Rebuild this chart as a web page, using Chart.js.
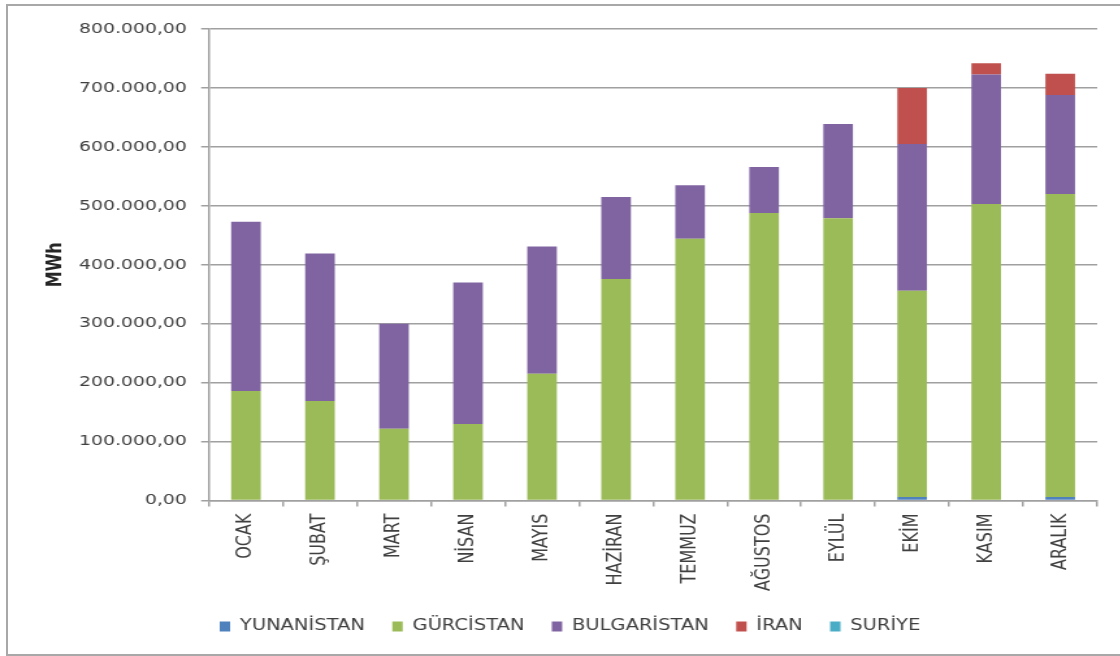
<!DOCTYPE html>
<html>
<head>
<meta charset="utf-8">
<script src="https://cdn.jsdelivr.net/npm/chart.js@4"></script>
<style>
  html, body { margin: 0; padding: 0; background: #ffffff; overflow: hidden; }
  #frame { position: absolute; left: 6px; top: 4px; width: 1300px; height: 648px;
           border-left: 2px solid #a8a8a8; border-top: 2px solid #a8a8a8; border-bottom: 2px solid #a8a8a8; }
  #wrap { position: absolute; left: 0; top: 0; width: 862px; height: 656px;
          transform: scaleX(1.3); transform-origin: 0 0; }
</style>
</head>
<body>
<div id="frame"></div>
<div id="wrap"><canvas id="c" width="862" height="656"></canvas></div>
<script>
const months = ['OCAK','ŞUBAT','MART','NİSAN','MAYIS','HAZİRAN','TEMMUZ','AĞUSTOS','EYLÜL','EKİM','KASIM','ARALIK'];
const yunanistan  = [0, 0, 0, 0, 0, 0, 0, 0, 0, 6000, 0, 6000];
const gurcistan   = [186000, 169000, 122000, 130000, 215000, 376000, 444000, 488000, 479000, 350000, 503000, 514000];
const bulgaristan = [287000, 250000, 178000, 240000, 216000, 139000, 91000, 78000, 160000, 249000, 220000, 168000];
const iran        = [0, 0, 0, 0, 0, 0, 0, 0, 0, 95000, 19000, 36000];
const suriye      = [0, 0, 0, 0, 0, 0, 0, 0, 0, 0, 0, 0];
const seriesNames = ['YUNANİSTAN','GÜRCİSTAN','BULGARİSTAN','İRAN','SURİYE'];
const yMax = 800000;
const yStep = 100000;

function trFormat(v) {
  const s = Math.round(v).toString().replace(/\B(?=(\d{3})+(?!\d))/g, '.');
  return s + ',00';
}

const colors = ['#4f81bd', '#9bbb59', '#8064a2', '#c0504d', '#4bacc6'];
const values = [yunanistan, gurcistan, bulgaristan, iran, suriye];
const FONT = '"DejaVu Sans", Verdana, sans-serif';

new Chart(document.getElementById('c'), {
  type: 'bar',
  data: {
    labels: months,
    datasets: seriesNames.map((n, i) => ({
      label: n,
      data: values[i],
      backgroundColor: colors[i],
      borderWidth: 0,
      categoryPercentage: 1.0,
      barPercentage: 0.40
    }))
  },
  options: {
    responsive: false,
    animation: false,
    layout: { padding: { top: 29, right: 18, bottom: 12, left: 33 } },
    plugins: {
      tooltip: { enabled: false },
      legend: {
        position: 'bottom',
        labels: {
          boxWidth: 8,
          boxHeight: 10,
          padding: 21,
          color: '#404040',
          font: { family: FONT, size: 15 }
        }
      }
    },
    scales: {
      x: {
        stacked: true,
        grid: { display: true, drawOnChartArea: false, drawTicks: true, tickLength: 6, offset: true, color: '#a0a0a0', lineWidth: 1.5 },
        border: { display: true, color: '#a0a0a0', width: 1.5 },
        ticks: {
          minRotation: 90, maxRotation: 90, padding: 7,
          color: '#404040',
          font: { family: FONT, size: 16 }
        }
      },
      y: {
        stacked: true,
        min: 0, max: yMax,
        grid: { color: '#a0a0a0', lineWidth: 1.5, tickLength: 6 },
        border: { display: true, color: '#a0a0a0', width: 1.5 },
        ticks: {
          stepSize: yStep,
          padding: 11,
          color: '#404040',
          font: { family: FONT, size: 14.5 },
          callback: (v) => trFormat(v)
        },
        title: {
          display: true, text: 'MWh', color: '#262626',
          font: { family: FONT, size: 16, weight: 'bold' },
          padding: { top: 0, bottom: -2.5 }
        }
      }
    }
  }
});
</script>
</body>
</html>
